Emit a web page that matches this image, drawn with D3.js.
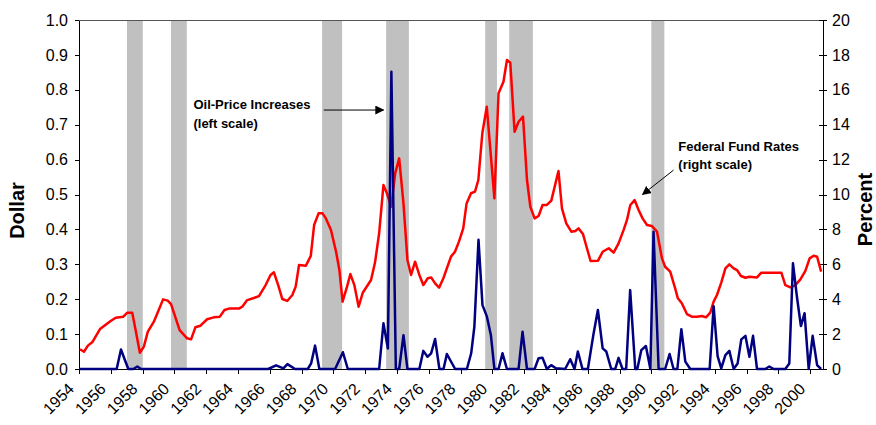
<!DOCTYPE html>
<html>
<head>
<meta charset="utf-8">
<script src="https://cdn.jsdelivr.net/npm/d3@7"></script>
<style>
	body { margin: 0; background: #fff; }
	svg { display: block; font-family: "Liberation Sans", Arial, sans-serif; }
	.axis text { font-size: 16px; fill: #000; }
	.axis path, .axis line { stroke: #000; shape-rendering: crispEdges; }
	.axis-title { font-size: 20px; font-weight: bold; }
	.note { font-size: 13px; font-weight: bold; }
</style>
</head>
<body>
<svg id="chart" width="876" height="425"></svg>
<script>
// x-axis tick labels (every second year)
const tickYears = d3.range(1954, 2001, 2);

// shaded periods (start year, end year)
const recessions = [
	[1957.02, 1958.01], [1959.79, 1960.78], [1969.29, 1970.55], [1973.32, 1974.75],
	[1979.55, 1980.29], [1981.06, 1982.55], [1990.0, 1990.82]
];

// federal funds rate, percent (right scale): [year, value]
const fedFunds = [
	[1954.06, 1.13], [1954.31, 0.99], [1954.56, 1.34], [1954.83, 1.53], [1955.32, 2.29], [1955.68, 2.54],
	[1955.99, 2.75], [1956.31, 2.94], [1956.79, 3.0], [1957.04, 3.23], [1957.35, 3.23], [1957.56, 2.23],
	[1957.83, 0.93], [1958.08, 1.28], [1958.33, 2.14], [1958.71, 2.71], [1959.29, 3.99], [1959.58, 3.92],
	[1959.79, 3.72], [1960.33, 2.23], [1960.8, 1.76], [1961.05, 1.70], [1961.32, 2.39], [1961.64, 2.48],
	[1962.06, 2.85], [1962.48, 2.96], [1962.86, 3.0], [1963.15, 3.38], [1963.43, 3.46], [1964.06, 3.46],
	[1964.27, 3.57], [1964.58, 3.95], [1965.0, 4.07], [1965.32, 4.18], [1965.74, 4.81], [1966.05, 5.39],
	[1966.26, 5.54], [1966.53, 4.81], [1966.79, 4.01], [1967.1, 3.90], [1967.42, 4.24], [1967.63, 4.72],
	[1967.84, 5.96], [1968.27, 5.92], [1968.58, 6.48], [1968.79, 8.25], [1969.07, 8.92], [1969.32, 8.92],
	[1969.53, 8.63], [1969.85, 7.97], [1970.17, 6.72], [1970.38, 5.67], [1970.58, 3.86], [1970.86, 4.72],
	[1971.07, 5.44], [1971.32, 4.81], [1971.59, 3.57], [1971.85, 4.37], [1972.37, 5.10], [1972.62, 6.1],
	[1972.88, 7.78], [1973.15, 10.54], [1973.37, 10.07], [1973.64, 9.30], [1973.89, 11.21], [1974.14, 12.07],
	[1974.41, 9.49], [1974.66, 6.25], [1974.89, 5.39], [1975.14, 6.15], [1975.41, 5.39], [1975.66, 4.81],
	[1975.94, 5.20], [1976.15, 5.25], [1976.4, 4.91], [1976.65, 4.66], [1976.92, 5.2], [1977.4, 6.44],
	[1977.65, 6.72], [1977.9, 7.30], [1978.17, 8.06], [1978.38, 9.49], [1978.66, 10.07], [1978.91, 10.16],
	[1979.12, 10.83], [1979.37, 13.51], [1979.65, 15.03], [1979.86, 12.74], [1980.13, 9.78], [1980.39, 15.8],
	[1980.7, 16.46], [1980.92, 17.71], [1981.13, 17.55], [1981.4, 13.6], [1981.65, 14.17], [1981.93, 14.46],
	[1982.18, 10.83], [1982.39, 9.30], [1982.66, 8.63], [1982.91, 8.77], [1983.16, 9.40], [1983.43, 9.40],
	[1983.71, 9.65], [1984.16, 11.35], [1984.38, 9.21], [1984.65, 8.35], [1984.97, 7.87], [1985.22, 7.91],
	[1985.42, 8.06], [1985.7, 7.74], [1985.95, 6.92], [1986.18, 6.19], [1986.65, 6.21], [1986.94, 6.72],
	[1987.32, 6.92], [1987.63, 6.67], [1987.94, 7.20], [1988.26, 7.97], [1988.47, 8.54], [1988.68, 9.40],
	[1988.95, 9.68], [1989.2, 9.11], [1989.45, 8.63], [1989.73, 8.25], [1990.04, 8.19], [1990.36, 7.87],
	[1990.67, 6.34], [1990.87, 5.86], [1991.19, 5.58], [1991.5, 4.62], [1991.67, 4.05], [1991.92, 3.77],
	[1992.24, 3.15], [1992.55, 3.0], [1992.87, 3.0], [1993.18, 3.04], [1993.44, 2.96], [1993.71, 3.23],
	[1993.92, 3.86], [1994.13, 4.24], [1994.4, 4.95], [1994.66, 5.77], [1994.91, 6.0], [1995.18, 5.77],
	[1995.39, 5.67], [1995.64, 5.33], [1995.92, 5.23], [1996.17, 5.29], [1996.65, 5.25], [1996.92, 5.52],
	[1997.28, 5.52], [1997.8, 5.52], [1998.18, 5.52], [1998.43, 4.81], [1998.75, 4.68], [1999.06, 4.81],
	[1999.38, 5.14], [1999.69, 5.62], [1999.96, 6.34], [2000.21, 6.49], [2000.43, 6.43], [2000.68, 5.58]
];

// oil-price increases, dollar (left scale): [year, value]
const oilIncreases = [
	[1954.0, 0], [1956.37, 0], [1956.64, 0.056], [1957.1, 0], [1957.42, 0], [1957.67, 0.007],
	[1957.9, 0], [1965.9, 0], [1966.4, 0.0105], [1966.86, 0.002], [1967.11, 0.014], [1967.59, 0],
	[1968.39, 0], [1968.6, 0.016], [1968.85, 0.067], [1969.12, 0], [1970.11, 0], [1970.6, 0.048],
	[1970.91, 0], [1972.88, 0], [1973.15, 0.131], [1973.43, 0.059], [1973.65, 0.852], [1973.93, 0],
	[1974.14, 0], [1974.41, 0.097], [1974.66, 0], [1975.41, 0], [1975.66, 0.052], [1975.92, 0.035],
	[1976.15, 0.045], [1976.4, 0.086], [1976.67, 0], [1976.93, 0], [1977.14, 0.043], [1977.66, 0],
	[1978.4, 0], [1978.67, 0.045], [1978.87, 0.121], [1979.13, 0.37], [1979.38, 0.183], [1979.66, 0.15],
	[1979.91, 0.097], [1980.13, 0], [1980.39, 0], [1980.64, 0.045], [1980.92, 0], [1981.65, 0],
	[1981.9, 0.107], [1982.18, 0], [1982.66, 0], [1982.91, 0.031], [1983.16, 0.032], [1983.43, 0],
	[1983.7, 0.011], [1984.0, 0.002], [1984.58, 0], [1984.9, 0.028], [1985.17, 0], [1985.38, 0.05],
	[1985.67, 0], [1986.01, 0], [1986.37, 0.102], [1986.64, 0.169], [1986.94, 0.059], [1987.17, 0.05],
	[1987.48, 0], [1987.73, 0], [1987.94, 0.032], [1988.19, 0], [1988.42, 0], [1988.67, 0.226],
	[1988.99, 0], [1989.12, 0], [1989.37, 0.054], [1989.66, 0.066], [1989.94, 0], [1990.14, 0.393],
	[1990.46, 0], [1990.87, 0], [1991.15, 0.043], [1991.4, 0], [1991.64, 0], [1991.89, 0.114],
	[1992.14, 0.021], [1992.45, 0], [1993.67, 0], [1993.92, 0.18], [1994.17, 0.037], [1994.4, 0.002],
	[1994.66, 0.04], [1994.91, 0.052], [1995.18, 0], [1995.43, 0.016], [1995.66, 0.085], [1995.92, 0.095],
	[1996.17, 0.035], [1996.4, 0.095], [1996.65, 0], [1997.17, 0], [1997.42, 0.007], [1997.7, 0],
	[1998.43, 0], [1998.68, 0.016], [1998.91, 0.303], [1999.16, 0.207], [1999.41, 0.123], [1999.64, 0.16],
	[1999.9, 0], [2000.15, 0.095], [2000.43, 0.011], [2000.68, 0]
];

// annotation texts
const oilNote = ['Oil-Price Increases', '(left scale)'];
const fedNote = ['Federal Fund Rates', '(right scale)'];


let margin = {top: 20, left: 79, right: 53, bottom: 56},
	svg = d3.select('#chart'),
	width = 876 - margin.left - margin.right,
	height = 425 - margin.top - margin.bottom;

let x = d3.scaleLinear().domain([1954, 2000.8]).range([0, width]),
	yLeft = d3.scaleLinear().domain([0, 1]).range([height, 0]),
	yRight = d3.scaleLinear().domain([0, 20]).range([height, 0]);

let g = svg.append('g')
	.attr('transform', 'translate(' + margin.left + ',' + margin.top + ')');

// arrow head
svg.append('defs').append('marker')
	.attr('id', 'arrow')
	.attr('viewBox', '0 0 10 10')
	.attr('refX', 9).attr('refY', 5)
	.attr('markerWidth', 9).attr('markerHeight', 9)
	.attr('markerUnits', 'userSpaceOnUse')
	.attr('orient', 'auto')
	.append('path')
	.attr('d', 'M0,0L10,5L0,10Z')
	.attr('fill', '#000');

// recession shading
g.selectAll('.shade')
	.data(recessions)
	.enter()
	.append('rect')
	.attr('class', 'shade')
	.attr('x', d => x(d[0]))
	.attr('width', d => x(d[1]) - x(d[0]))
	.attr('y', 0)
	.attr('height', height)
	.attr('fill', '#c0c0c0');

// top border of plot area
g.append('line')
	.attr('x1', 0).attr('x2', width)
	.attr('y1', 0.5).attr('y2', 0.5)
	.attr('stroke', '#555');

// axes
let xAxis = d3.axisBottom(x)
	.tickValues(tickYears)
	.tickSize(5)
	.tickSizeOuter(0)
	.tickFormat('');

g.append('g')
	.attr('class', 'axis axis--x')
	.attr('transform', 'translate(0,' + height + ')')
	.call(xAxis);

g.append('g')
	.attr('class', 'x-labels')
	.selectAll('text')
	.data(tickYears)
	.enter()
	.append('text')
	.attr('transform', d => 'translate(' + (x(d) - 4) + ',' + (height + 21) + ') rotate(-45)')
	.attr('text-anchor', 'end')
	.style('font-size', '16px')
	.text(d => d);

g.append('g')
	.attr('class', 'axis axis--left')
	.call(d3.axisLeft(yLeft).ticks(10).tickFormat(d3.format('.1f')).tickSize(4).tickSizeOuter(0).tickPadding(7));

let rightAxis = g.append('g')
	.attr('class', 'axis axis--right')
	.attr('transform', 'translate(' + width + ',0)')
	.call(d3.axisRight(yRight).tickValues(d3.range(0, 21, 2)).tickSize(4).tickSizeOuter(0).tickPadding(5));

// right ticks cross the axis
rightAxis.selectAll('.tick line').attr('x1', -4);

// series lines
let fedLine = d3.line()
	.x(d => x(d[0]))
	.y(d => yRight(d[1]));

let oilLine = d3.line()
	.x(d => x(d[0]))
	.y(d => yLeft(d[1]));

g.append('path')
	.datum(fedFunds)
	.attr('d', fedLine)
	.attr('fill', 'none')
	.attr('stroke', '#ff0000')
	.attr('stroke-width', 2.5)
	.attr('stroke-linejoin', 'round');

g.append('path')
	.datum(oilIncreases)
	.attr('d', oilLine)
	.attr('fill', 'none')
	.attr('stroke', '#000080')
	.attr('stroke-width', 2.5)
	.attr('stroke-linejoin', 'round');

// annotations
g.append('text')
	.attr('class', 'note')
	.selectAll('tspan')
	.data(oilNote)
	.enter()
	.append('tspan')
	.attr('x', x(1961.2))
	.attr('y', (d, i) => yLeft(0.746) + i * 19)
	.text(d => d);

g.append('line')
	.attr('x1', x(1969.4)).attr('y1', yLeft(0.742))
	.attr('x2', x(1973.15)).attr('y2', yLeft(0.742))
	.attr('stroke', '#000')
	.attr('marker-end', 'url(#arrow)');

g.append('text')
	.attr('class', 'note')
	.selectAll('tspan')
	.data(fedNote)
	.enter()
	.append('tspan')
	.attr('x', x(1991.7))
	.attr('y', (d, i) => yRight(12.5) + i * 18)
	.text(d => d);

g.append('line')
	.attr('x1', x(1991.4)).attr('y1', yRight(11.4))
	.attr('x2', x(1989.45)).attr('y2', yRight(10.0))
	.attr('stroke', '#000')
	.attr('marker-end', 'url(#arrow)');

// axis titles
svg.append('text')
	.attr('class', 'axis-title')
	.attr('transform', 'translate(24,' + (margin.top + height / 2 + 16) + ') rotate(-90)')
	.attr('text-anchor', 'middle')
	.text('Dollar');

svg.append('text')
	.attr('class', 'axis-title')
	.attr('transform', 'translate(872,' + (margin.top + height / 2 + 15) + ') rotate(-90)')
	.attr('text-anchor', 'middle')
	.text('Percent');
</script>
</body>
</html>
